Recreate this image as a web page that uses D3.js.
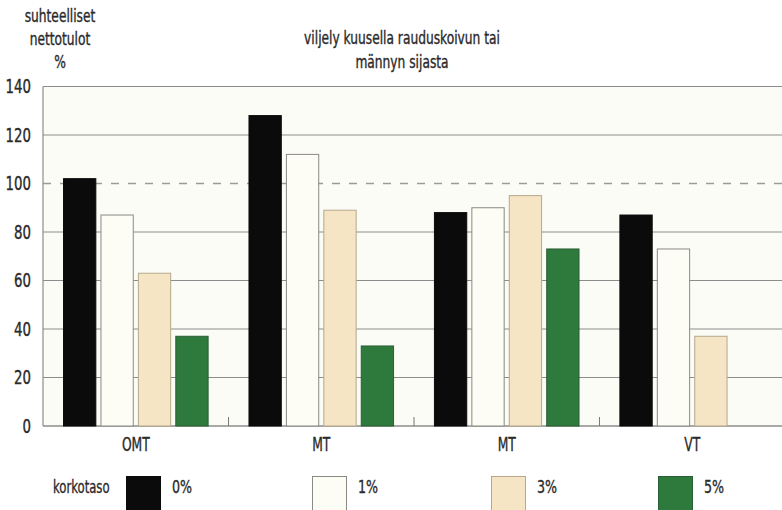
<!DOCTYPE html>
<html>
<head>
<meta charset="utf-8">
<script src="https://cdn.jsdelivr.net/npm/d3@7/dist/d3.min.js"></script>
<style>
  html, body { margin: 0; padding: 0; background: #fff; }
  svg { display: block; }
  text { font-family: "DejaVu Sans Condensed", "DejaVu Sans", sans-serif; font-stretch: condensed; fill: #2a2a2a; stroke: #2a2a2a; stroke-width: 0.35px; }
</style>
</head>
<body>
<svg id="chart" width="782" height="510"></svg>
<script>
// Kasvupaikat (site types)
const categories = ["OMT", "MT", "MT", "VT"];
// Korkotasot (interest rates)
const rates = ["0%", "1%", "3%", "5%"];
// Suhteelliset nettotulot, % — one array per interest rate
const rate0 = [102, 128, 88, 87];
const rate1 = [87, 112, 90, 73];
const rate3 = [63, 89, 95, 37];
const rate5 = [37, 33, 73, null];
const yTicks = [0, 20, 40, 60, 80, 100, 120, 140];

const seriesValues = [rate0, rate1, rate3, rate5];
const fills   = ["#0b0b0b", "#fdfdf6", "#f6e5c4", "#2d7a3c"];
const strokes = ["#0b0b0b", "#8a8a84", "#b5a88c", "#2a5e34"];

const svg = d3.select("#chart");
const W = 782, H = 510;
const plot = { left: 43, top: 86.5, bottom: 426 };

// condensed look for all labels
function squeeze(sel, k) {
  sel.each(function () {
    const t = d3.select(this);
    const len = this.getComputedTextLength();
    t.attr("textLength", len * k).attr("lengthAdjust", "spacingAndGlyphs");
  });
}

// plot background
svg.append("rect")
  .attr("x", plot.left).attr("y", plot.top)
  .attr("width", W - plot.left).attr("height", plot.bottom - plot.top)
  .attr("fill", "#fcfcf7");

const y = d3.scaleLinear().domain([0, 140]).range([plot.bottom, plot.top]);

const x0 = d3.scaleBand()
  .domain(d3.range(categories.length))
  .range([43, 785])
  .paddingInner(0.215)
  .paddingOuter(0.108);

const x1 = d3.scaleBand()
  .domain(d3.range(rates.length))
  .range([0, x0.bandwidth()])
  .paddingInner(0.11);

// horizontal gridlines
svg.append("g")
  .selectAll("line")
  .data(yTicks.filter(t => t !== 100 && t !== 0))
  .join("line")
  .attr("x1", plot.left).attr("x2", W)
  .attr("y1", d => y(d)).attr("y2", d => y(d))
  .attr("stroke", "#8c8c8c").attr("stroke-width", 1.2);

// reference line at 100
svg.append("line")
  .attr("x1", plot.left).attr("x2", W)
  .attr("y1", y(100)).attr("y2", y(100))
  .attr("stroke", "#9a9a9a").attr("stroke-width", 1.3)
  .attr("stroke-dasharray", "8,9");

// left and bottom frame
svg.append("line")
  .attr("x1", plot.left).attr("x2", plot.left)
  .attr("y1", plot.top).attr("y2", plot.bottom)
  .attr("stroke", "#8c8c8c").attr("stroke-width", 1.2);
svg.append("line")
  .attr("x1", plot.left).attr("x2", W)
  .attr("y1", plot.bottom).attr("y2", plot.bottom)
  .attr("stroke", "#8c8c8c").attr("stroke-width", 1.4);

// bars
const groups = svg.append("g")
  .selectAll("g")
  .data(categories.map((c, i) => ({ c, i })))
  .join("g")
  .attr("transform", d => `translate(${x0(d.i)},0)`);

groups.selectAll("rect")
  .data(d => seriesValues.map((s, k) => ({ k, v: s[d.i] })).filter(e => e.v != null))
  .join("rect")
  .attr("x", e => x1(e.k) + 0.5)
  .attr("y", e => y(e.v))
  .attr("width", x1.bandwidth() - 1)
  .attr("height", e => y(0) - y(e.v))
  .attr("fill", e => fills[e.k])
  .attr("stroke", e => strokes[e.k])
  .attr("stroke-width", 1);

// small separators between site groups
svg.append("g")
  .selectAll("line")
  .data(d3.range(1, categories.length))
  .join("line")
  .attr("x1", i => (x0(i - 1) + x0.bandwidth() + x0(i)) / 2)
  .attr("x2", i => (x0(i - 1) + x0.bandwidth() + x0(i)) / 2)
  .attr("y1", plot.bottom - 9).attr("y2", plot.bottom)
  .attr("stroke", "#777").attr("stroke-width", 1);

// y axis labels
const yAxis = d3.axisLeft(y).tickValues(yTicks).tickSize(0).tickPadding(12);
const ya = svg.append("g").attr("transform", `translate(${plot.left},0)`).call(yAxis);
ya.select(".domain").remove();
ya.selectAll("text")
  .style("font-size", "19px")
  .style("font-family", null)
  .attr("fill", "#2a2a2a")
  .call(squeeze, 0.78);

// category labels
const xAxis = d3.axisBottom(x0).tickFormat(i => categories[i]).tickSize(0).tickPadding(12);
const xa = svg.append("g").attr("transform", `translate(0,${plot.bottom})`).call(xAxis);
xa.select(".domain").remove();
xa.selectAll("text")
  .style("font-size", "19px")
  .style("font-family", null)
  .attr("fill", "#2a2a2a")
  .call(squeeze, 0.72);

// y-axis title
const yTitle = ["suhteelliset", "nettotulot", "%"];
svg.append("g").selectAll("text")
  .data(yTitle)
  .join("text")
  .attr("x", 60).attr("y", (d, i) => 22 + i * 23)
  .attr("text-anchor", "middle")
  .style("font-size", "17px")
  .text(d => d)
  .call(squeeze, 0.8);

// chart title
const title = ["viljely kuusella rauduskoivun tai", "männyn sijasta"];
svg.append("g").selectAll("text")
  .data(title)
  .join("text")
  .attr("x", 402).attr("y", (d, i) => 44 + i * 24)
  .attr("text-anchor", "middle")
  .style("font-size", "17px")
  .text(d => d)
  .call(squeeze, 0.8);

// legend
svg.append("text")
  .attr("x", 53).attr("y", 493)
  .style("font-size", "18px")
  .text("korkotaso")
  .call(squeeze, 0.72);

const legendX = [126, 312, 491, 658];
const leg = svg.append("g").selectAll("g")
  .data(rates.map((r, k) => ({ r, k })))
  .join("g")
  .attr("transform", d => `translate(${legendX[d.k]},476)`);
leg.append("rect")
  .attr("x", 0.5).attr("y", 0.5)
  .attr("width", 34).attr("height", 34)
  .attr("fill", d => fills[d.k])
  .attr("stroke", d => strokes[d.k]);
leg.append("text")
  .attr("x", 46).attr("y", 17)
  .style("font-size", "18px")
  .text(d => d.r)
  .call(squeeze, 0.78);
</script>
</body>
</html>
